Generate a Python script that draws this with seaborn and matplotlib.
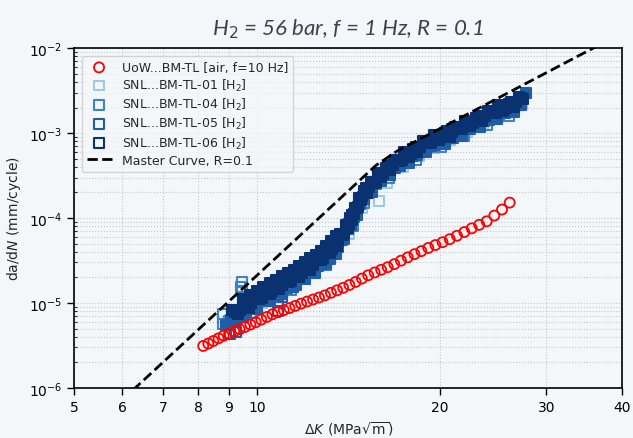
import numpy as np
import matplotlib
matplotlib.use("Agg")
import matplotlib.pyplot as plt
import seaborn as sns
from matplotlib.ticker import NullLocator, LogLocator

# UoW air test (open red circles)
uow_dk = [8.16, 8.32, 8.48, 8.65, 8.82, 9.00, 9.18, 9.37, 9.56, 9.76, 9.96, 10.17, 10.39,
          10.61, 10.84, 11.08, 11.32, 11.57, 11.83, 12.10, 12.38, 12.66, 12.95, 13.25,
          13.56, 13.88, 14.21, 14.55, 14.90, 15.26, 15.64, 16.03, 16.43, 16.85, 17.28,
          17.73, 18.19, 18.67, 19.17, 19.69, 20.23, 20.79, 21.37, 21.97, 22.60, 23.25,
          23.92, 24.62, 25.35, 26.10]
uow_dadn = [3.12e-6, 3.33e-6, 3.57e-6, 3.84e-6, 4.12e-6, 4.36e-6, 4.63e-6, 4.91e-6, 5.22e-6,
            5.57e-6, 5.94e-6, 6.37e-6, 6.85e-6, 7.36e-6, 7.78e-6, 8.24e-6, 8.71e-6, 9.24e-6,
            9.82e-6, 1.04e-5, 1.10e-5, 1.16e-5, 1.23e-5, 1.32e-5, 1.41e-5, 1.51e-5, 1.63e-5,
            1.77e-5, 1.94e-5, 2.12e-5, 2.29e-5, 2.46e-5, 2.64e-5, 2.87e-5, 3.15e-5, 3.45e-5,
            3.76e-5, 4.08e-5, 4.45e-5, 4.81e-5, 5.20e-5, 5.64e-5, 6.19e-5, 6.84e-5, 7.57e-5,
            8.32e-5, 9.16e-5, 1.07e-4, 1.26e-4, 1.52e-4]

# SNL hydrogen tests (open squares)
snl01_dk = [9.2, 10.2, 11.2, 12.2, 13.2, 14.2, 14.9, 15.9, 16.4, 17.4, 18.5, 19.6, 20.8,
            22.2, 23.6, 25.0, 26.4, 27.4]
snl01_dadn = [6.5e-6, 1.0e-5, 1.5e-5, 2.3e-5, 3.5e-5, 6.5e-5, 1.3e-4, 1.6e-4, 2.6e-4, 4.0e-4,
              5.3e-4, 6.6e-4, 8.2e-4, 1.02e-3, 1.25e-3, 1.55e-3, 1.85e-3, 2.2e-3]

snl04_dk = [8.80, 8.80, 9.40, 9.46, 9.46, 9.0, 9.8, 10.6, 11.4, 12.2, 13.0, 13.8, 14.4, 15.0,
            15.7, 16.5, 17.4, 18.3, 19.2, 20.1, 21.0, 22.0, 23.0, 24.0, 25.0, 26.0, 27.0]
snl04_dadn = [7.4e-6, 5.66e-6, 1.55e-5, 1.77e-5, 1.38e-5, 6.10e-6, 7.60e-6, 1.265e-5, 1.432e-5,
              2.344e-5, 2.818e-5, 5.559e-5, 8.091e-5, 1.483e-4, 2.495e-4, 2.931e-4, 4.498e-4,
              4.819e-4, 6.902e-4, 6.776e-4, 9.099e-4, 9.183e-4, 1.256e-3, 1.247e-3, 1.671e-3,
              1.567e-3, 2.138e-3]

# first five are the stray squares near the threshold region
snl05_dk = [9.03, 9.25, 10.85, 10.85, 11.0, 8.9, 9.2, 9.6, 10.0, 10.4, 10.8, 11.2, 11.6, 12.0,
            12.4, 12.8, 13.2, 13.6, 13.95, 14.3, 14.65, 15.0, 15.5, 16.0, 16.6, 17.2, 17.8,
            18.4, 19.0, 19.7, 20.4, 21.1, 21.8, 22.5, 23.3, 24.1, 24.9, 25.7, 26.5, 27.3, 27.8,
            9.05, 9.4, 9.8, 10.2, 10.6, 11.0, 11.4, 11.8, 12.2, 12.6, 13.0, 13.4, 13.78, 14.12,
            14.48, 14.82, 15.25, 15.75, 16.3, 16.9, 17.5, 18.1, 18.7, 19.35, 20.05, 20.75,
            21.45, 22.15, 22.9, 23.7, 24.5, 25.3, 26.1, 26.9,
            9.5, 10.0, 10.5, 11.0, 11.5, 12.0, 12.5, 13.0, 13.5]
snl05_dadn = [4.3e-6, 4.6e-6, 1.03e-5, 8.05e-6, 1.18e-5, 5.53e-6, 6.01e-6, 7.82e-6, 8.69e-6,
              1.112e-5, 1.211e-5, 1.496e-5, 1.622e-5, 2.080e-5, 2.244e-5, 2.877e-5, 3.296e-5,
              4.508e-5, 5.58e-5, 8.26e-5, 1.086e-4, 1.663e-4, 2.018e-4, 2.748e-4, 3.184e-4,
              4.074e-4, 4.457e-4, 5.546e-4, 5.943e-4, 7.145e-4, 7.413e-4, 8.831e-4, 9.268e-4,
              1.114e-3, 1.169e-3, 1.422e-3, 1.472e-3, 1.698e-3, 1.770e-3, 2.138e-3, 2.95e-3,
              6.25e-6, 7.45e-6, 8.93e-6, 1.064e-5, 1.265e-5, 1.459e-5, 1.683e-5, 1.991e-5,
              2.344e-5, 2.742e-5, 3.311e-5, 4.121e-5, 5.433e-5, 7.31e-5, 1.026e-4, 1.442e-4,
              1.986e-4, 2.553e-4, 3.206e-4, 3.899e-4, 4.624e-4, 5.383e-4, 6.281e-4, 7.079e-4,
              7.889e-4, 8.770e-4, 9.75e-4, 1.104e-3, 1.236e-3, 1.393e-3, 1.578e-3, 1.714e-3,
              1.871e-3, 2.109e-3,
              6.82e-6, 8.49e-6, 1.062e-5, 1.274e-5, 1.517e-5, 1.897e-5, 2.275e-5, 2.884e-5,
              3.793e-5]

snl06_dk = [9.1, 9.3, 9.5, 9.7, 9.9, 10.1, 10.3, 10.5, 10.7, 10.9, 11.1, 11.3, 11.5, 11.75,
            12.0, 12.25, 12.5, 12.75, 13.0, 13.2, 13.4, 13.55, 13.7, 13.85, 14.0, 14.12, 14.25,
            14.38, 14.5, 14.62, 14.75, 14.88, 15.0, 15.2, 15.4, 15.6, 15.8, 16.0, 16.3, 16.6,
            16.9, 17.2, 17.5, 17.8, 18.1, 18.4, 18.8, 19.2, 19.6, 20.0, 20.4, 20.8, 21.2, 21.6,
            22.0, 22.5, 23.0, 23.5, 24.0, 24.5, 25.0, 25.5, 26.0, 26.5, 27.0, 27.5,
            9.2, 9.4, 9.6, 9.8, 10.0, 10.2, 10.4, 10.6, 10.8, 11.0, 11.2, 11.4, 11.62, 11.88,
            12.12, 12.38, 12.62, 12.88, 13.1, 13.3, 13.48, 13.62, 13.78, 13.92, 14.06, 14.18,
            14.32, 14.44, 14.56, 14.68, 14.82, 14.94, 15.1, 15.3, 15.5, 15.7, 15.9, 16.15,
            16.45, 16.75, 17.05, 17.35, 17.65, 17.95, 18.25, 18.6, 19.0, 19.4, 19.8, 20.2,
            20.6, 21.0, 21.4, 21.8, 22.25, 22.75, 23.25, 23.75, 24.25, 24.75, 25.25, 25.75,
            26.25, 26.75, 27.25,
            9.5, 9.75, 10.0, 10.25, 10.5, 10.75, 11.0, 11.25, 11.5, 11.75, 12.0, 12.25, 12.5,
            12.75, 13.0, 13.25, 13.5]
snl06_dadn = [8.26e-6, 7.43e-6, 9.42e-6, 8.75e-6, 1.175e-5, 1.117e-5, 1.436e-5, 1.276e-5,
              1.578e-5, 1.442e-5, 1.905e-5, 1.782e-5, 2.244e-5, 2.042e-5, 2.618e-5, 2.443e-5,
              3.289e-5, 3.228e-5, 4.266e-5, 3.873e-5, 4.955e-5, 4.645e-5, 6.442e-5, 6.339e-5,
              8.414e-5, 7.656e-5, 9.93e-5, 9.55e-5, 1.315e-4, 1.294e-4, 1.738e-4, 1.614e-4,
              2.094e-4, 1.982e-4, 2.704e-4, 2.606e-4, 3.365e-4, 3.013e-4, 3.855e-4, 3.656e-4,
              4.909e-4, 4.677e-4, 5.957e-4, 5.236e-4, 6.471e-4, 5.943e-4, 8.110e-4, 7.568e-4,
              9.484e-4, 8.204e-4, 1.000e-3, 9.036e-4, 1.180e-3, 1.099e-3, 1.390e-3, 1.222e-3,
              1.510e-3, 1.380e-3, 1.845e-3, 1.730e-3, 2.153e-3, 1.828e-3, 2.213e-3, 2.032e-3,
              2.692e-3, 2.529e-3,
              7.74e-6, 8.17e-6, 1.007e-5, 1.002e-5, 1.146e-5, 1.140e-5, 1.337e-5, 1.387e-5,
              1.671e-5, 1.637e-5, 1.841e-5, 1.803e-5, 2.113e-5, 2.259e-5, 2.805e-5, 2.799e-5,
              3.258e-5, 3.342e-5, 4.018e-5, 4.276e-5, 5.321e-5, 5.408e-5, 6.383e-5, 6.577e-5,
              7.925e-5, 8.511e-5, 1.079e-4, 1.107e-4, 1.303e-4, 1.352e-4, 1.656e-4, 1.795e-4,
              2.259e-4, 2.286e-4, 2.655e-4, 2.667e-4, 3.148e-4, 3.327e-4, 4.159e-4, 4.188e-4,
              4.786e-4, 4.753e-4, 5.521e-4, 5.689e-4, 6.871e-4, 6.855e-4, 7.834e-4, 7.638e-4,
              8.710e-4, 8.851e-4, 1.054e-3, 1.021e-3, 1.138e-3, 1.114e-3, 1.288e-3, 1.327e-3,
              1.600e-3, 1.578e-3, 1.786e-3, 1.738e-3, 1.959e-3, 1.963e-3, 2.350e-3, 2.312e-3,
              2.606e-3,
              1.107e-5, 1.236e-5, 1.377e-5, 1.542e-5, 1.722e-5, 1.888e-5, 2.065e-5, 2.254e-5,
              2.460e-5, 2.754e-5, 3.076e-5, 3.373e-5, 3.690e-5, 4.159e-5, 4.677e-5, 5.370e-5,
              6.152e-5]

# master curve R = 0.1
master_dk = [6.0, 15.7, 17.0, 37.0]
master_dadn = [7.2e-7, 4.15e-4, 6.1e-4, 1.13e-2]

snl_series = [
    ("SNL...BM-TL-01 [H$_2$]", snl01_dk, snl01_dadn, "#9ecae1"),
    ("SNL...BM-TL-04 [H$_2$]", snl04_dk, snl04_dadn, "#3c82c4"),
    ("SNL...BM-TL-05 [H$_2$]", snl05_dk, snl05_dadn, "#1f5ea6"),
    ("SNL...BM-TL-06 [H$_2$]", snl06_dk, snl06_dadn, "#0b3270"),
]

bg = "#f4f7f9"
sns.set_style("ticks")
plt.rcParams["font.family"] = ["DejaVu Sans"]

fig, ax = plt.subplots(figsize=(6.33, 4.39), dpi=100)
fig.patch.set_facecolor(bg)
ax.set_facecolor(bg)
fig.subplots_adjust(left=0.117, right=0.983, top=0.888, bottom=0.114)

sns.scatterplot(x=uow_dk, y=uow_dadn, ax=ax, marker="o", s=52, facecolors="none",
                edgecolors="#ff0000", linewidth=1.3, label="UoW...BM-TL [air, f=10 Hz]",
                zorder=5)
for lab, xs, ys, c in snl_series:
    # the band is so dense that the open squares merge into a solid strip
    if lab.startswith("SNL...BM-TL-05"):
        sns.scatterplot(x=xs[5:], y=ys[5:], ax=ax, marker="s", s=30, color=c,
                        linewidth=0, zorder=3, legend=False)
    if lab.startswith("SNL...BM-TL-06"):
        sns.scatterplot(x=xs, y=ys, ax=ax, marker="s", s=30, color=c,
                        linewidth=0, zorder=3, legend=False)
    sns.scatterplot(x=xs, y=ys, ax=ax, marker="s", s=49, facecolors="none",
                    edgecolors=c, linewidth=1.5, label=lab, zorder=3)
sns.lineplot(x=master_dk, y=master_dadn, ax=ax, color="black", linestyle="--",
             linewidth=2, label="Master Curve, R=0.1", zorder=6, sort=False)

ax.set_xscale("log")
ax.set_yscale("log")
ax.set_xlim(5, 40)
ax.set_ylim(1e-6, 1e-2)
xt = [5, 6, 7, 8, 9, 10, 20, 30, 40]
ax.set_xticks(xt)
ax.set_xticklabels([str(v) for v in xt])
ax.xaxis.set_minor_locator(NullLocator())
ax.yaxis.set_major_locator(LogLocator(base=10, numticks=10))
ax.yaxis.set_minor_locator(LogLocator(base=10, subs=np.arange(2, 10), numticks=10))

ax.grid(True, which="both", linestyle=":", color="#c4c8cc", linewidth=0.8)
ax.tick_params(axis="both", which="major", labelsize=10, direction="out", length=5,
               width=1, colors="black")
ax.tick_params(axis="y", which="minor", direction="in", length=2.5, width=0.8)
for sp in ax.spines.values():
    sp.set_visible(True)
    sp.set_linewidth(1.2)
    sp.set_color("black")

ax.set_xlabel(r"$\Delta K$ (MPa$\sqrt{\rm m}$)", fontsize=10)
ax.set_ylabel(r"da/d$N$ (mm/cycle)", fontsize=10)
ax.set_title(r"H$_2$ = 56 bar, f = 1 Hz, R = 0.1", fontsize=16, style="italic",
             family=["Lato", "DejaVu Sans"], color="#3e4349", pad=10)

leg = ax.legend(loc="upper left", fontsize=9, frameon=True, framealpha=0.8,
                facecolor=bg, edgecolor="#cccccc", borderaxespad=0.6,
                labelspacing=0.25, borderpad=0.4)

fig.savefig("out.png", dpi=100, facecolor=bg)
